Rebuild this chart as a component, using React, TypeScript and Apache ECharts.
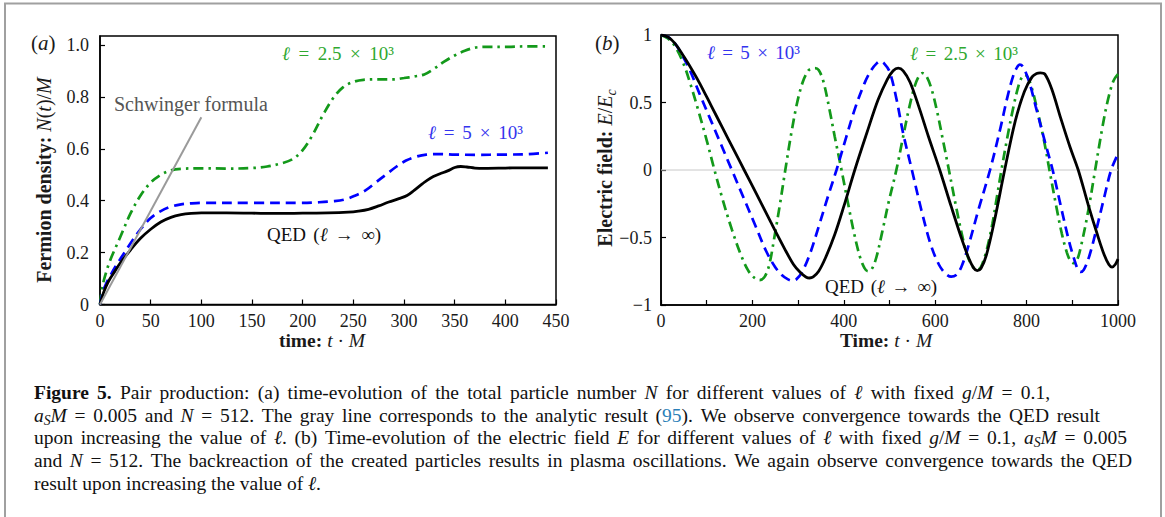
import React, { useEffect, useRef } from 'react';
import * as echarts from 'echarts';

const SERIF = '"Liberation Serif", "DejaVu Serif", serif';
const W = 1165;
const H = 517;

const GREEN = '#13991a';
const BLUE = '#0000ff';
const GREEN_T = '#2fa82f';
const BLUE_T = '#3434ee';
const LINK = '#2a7fb8';

// ---------- Panel (a): fermion density vs time ----------
const qedA: number[][] = [
  [0, 0], [3, 0.04], [6, 0.07], [10, 0.1], [15, 0.13], [20, 0.16], [30, 0.21], [40, 0.255],
  [50, 0.29], [60, 0.318], [70, 0.336], [80, 0.346], [90, 0.351], [100, 0.353], [125, 0.353],
  [150, 0.352], [175, 0.351], [200, 0.352], [225, 0.353], [245, 0.356], [255, 0.36], [265, 0.367],
  [275, 0.38], [285, 0.395], [295, 0.408], [303, 0.42], [310, 0.44], [318, 0.465], [326, 0.487],
  [335, 0.503], [343, 0.515], [350, 0.528], [356, 0.532], [362, 0.53], [370, 0.526], [380, 0.525],
  [400, 0.526], [420, 0.527], [442, 0.527],
];
const blueA: number[][] = [
  [0, 0], [3, 0.05], [6, 0.08], [10, 0.11], [15, 0.145], [20, 0.175], [30, 0.235], [40, 0.29],
  [50, 0.333], [60, 0.36], [70, 0.377], [80, 0.386], [90, 0.39], [100, 0.392], [150, 0.392],
  [200, 0.392], [215, 0.394], [230, 0.398], [242, 0.405], [252, 0.42], [262, 0.44], [272, 0.47],
  [282, 0.5], [292, 0.53], [302, 0.555], [312, 0.57], [322, 0.578], [335, 0.58], [350, 0.578],
  [370, 0.577], [400, 0.578], [420, 0.579], [442, 0.585],
];
const greenA: number[][] = [
  [0, 0], [2, 0.06], [5, 0.11], [10, 0.17], [20, 0.26], [30, 0.35], [40, 0.42], [50, 0.47],
  [60, 0.5], [70, 0.517], [80, 0.523], [100, 0.525], [125, 0.524], [150, 0.526], [165, 0.532],
  [178, 0.543], [190, 0.56], [200, 0.595], [210, 0.655], [220, 0.73], [230, 0.795], [240, 0.838],
  [250, 0.858], [260, 0.866], [275, 0.868], [290, 0.868], [300, 0.873], [310, 0.879], [320, 0.887],
  [330, 0.91], [340, 0.937], [350, 0.96], [360, 0.978], [370, 0.99], [380, 0.993], [400, 0.993],
  [420, 0.995], [442, 0.995],
];
const schwingerA: number[][] = [[0, 0], [100, 0.722]];

// ---------- Panel (b): electric field vs time ----------
const qedB: number[][] = [
  [0, 1.0], [15, 0.985], [30, 0.94], [50, 0.84], [70, 0.73], [85, 0.64], [110, 0.475], [135, 0.31],
  [160, 0.145], [182, 0.0], [210, -0.185], [240, -0.385], [270, -0.58], [290, -0.7], [305, -0.76],
  [317, -0.792], [325, -0.8], [333, -0.792], [345, -0.75], [360, -0.65], [380, -0.48], [400, -0.27],
  [424, 0.0], [450, 0.27], [475, 0.52], [495, 0.67], [508, 0.735], [519, 0.755], [530, 0.735],
  [545, 0.65], [565, 0.46], [585, 0.25], [610, 0.0], [635, -0.27], [657, -0.5], [673, -0.65],
  [684, -0.725], [692, -0.745], [700, -0.73], [712, -0.63], [730, -0.37], [752, 0.0], [775, 0.36],
  [795, 0.58], [812, 0.69], [822, 0.715], [830, 0.72], [840, 0.71], [855, 0.6], [875, 0.38],
  [895, 0.17], [913, 0.0], [935, -0.26], [955, -0.48], [970, -0.63], [980, -0.7], [987, -0.72],
  [994, -0.7], [1000, -0.66],
];
const blueB: number[][] = [
  [0, 1.0], [15, 0.985], [30, 0.94], [45, 0.86], [63, 0.74], [85, 0.56], [110, 0.36], [130, 0.2],
  [155, 0.0], [180, -0.2], [205, -0.4], [230, -0.6], [250, -0.72], [265, -0.78], [278, -0.81],
  [287, -0.82], [296, -0.81], [308, -0.76], [325, -0.63], [345, -0.42], [365, -0.2], [384, 0.0],
  [405, 0.24], [425, 0.46], [445, 0.64], [460, 0.74], [472, 0.79], [480, 0.805], [488, 0.79],
  [500, 0.73], [515, 0.53], [530, 0.27], [549, 0.0], [570, -0.3], [590, -0.55], [608, -0.7],
  [622, -0.765], [635, -0.79], [645, -0.78], [657, -0.72], [672, -0.57], [695, -0.29], [720, 0.0],
  [742, 0.3], [758, 0.54], [770, 0.69], [779, 0.76], [785, 0.78], [792, 0.765], [805, 0.66],
  [820, 0.47], [840, 0.21], [857, 0.0], [875, -0.27], [893, -0.53], [905, -0.67], [912, -0.735],
  [918, -0.755], [925, -0.74], [937, -0.64], [952, -0.45], [970, -0.2], [985, 0.0], [1000, 0.12],
];
const greenB: number[][] = [
  [0, 1.0], [15, 0.975], [30, 0.92], [49, 0.79], [65, 0.63], [80, 0.46], [100, 0.22], [117, 0.0],
  [135, -0.22], [155, -0.44], [175, -0.63], [190, -0.74], [203, -0.795], [216, -0.815], [227, -0.79],
  [237, -0.7], [248, -0.5], [260, -0.26], [272, 0.0], [285, 0.27], [298, 0.5], [310, 0.65],
  [322, 0.735], [330, 0.752], [337, 0.755], [345, 0.74], [355, 0.66], [368, 0.46], [380, 0.25],
  [395, 0.0], [410, -0.26], [422, -0.46], [435, -0.64], [445, -0.725], [453, -0.75], [461, -0.735],
  [471, -0.65], [484, -0.46], [498, -0.24], [515, 0.0], [530, 0.25], [543, 0.46], [555, 0.62],
  [565, 0.7], [572, 0.718], [580, 0.7], [592, 0.6], [605, 0.42], [617, 0.22], [630, 0.0],
  [645, -0.26], [658, -0.47], [670, -0.63], [682, -0.715], [692, -0.74], [700, -0.72], [712, -0.6],
  [725, -0.4], [735, -0.2], [745, 0.0], [760, 0.28], [772, 0.48], [782, 0.62], [790, 0.69],
  [795, 0.705], [802, 0.69], [812, 0.6], [825, 0.42], [838, 0.22], [850, 0.0], [865, -0.27],
  [877, -0.47], [888, -0.61], [896, -0.675], [902, -0.69], [910, -0.67], [920, -0.55], [935, -0.3],
  [950, 0.0], [965, 0.3], [978, 0.52], [990, 0.66], [1000, 0.71],
];
const zeroLineB: number[][] = [[0, 0], [1000, 0]];

// ---------- Caption ----------
const captionLines: string[] = [
  '**Figure** **5.** Pair production: (a) time-evolution of the total particle number *N* for different values of *ℓ* with fixed *g*/*M* = 0.1,',
  '*a*_S_*M* = 0.005 and *N* = 512. The gray line corresponds to the analytic result ([95]). We observe convergence towards the QED result',
  'upon increasing the value of *ℓ*. (b) Time-evolution of the electric field *E* for different values of *ℓ* with fixed *g*/*M* = 0.1, *a*_S_*M* = 0.005',
  'and *N* = 512. The backreaction of the created particles results in plasma oscillations. We again observe convergence towards the QED',
  'result upon increasing the value of *ℓ*.',
];
const captionRightEdges: (number | null)[] = [1050, 1100, 1127, 1132, null];

// ---------- text helpers ----------
type Seg = { text: string; italic: boolean; bold: boolean; sub: boolean; color?: string };

let measureCtx: CanvasRenderingContext2D | null = null;
function fontOf(s: { italic: boolean; bold: boolean }, size: number) {
  return `${s.italic ? 'italic ' : ''}${s.bold ? 'bold ' : ''}${size}px ${SERIF}`;
}
function measure(text: string, font: string): number {
  if (!measureCtx) measureCtx = document.createElement('canvas').getContext('2d');
  if (!measureCtx) return text.length * 8;
  measureCtx.font = font;
  return measureCtx.measureText(text).width;
}
function parseWord(word: string): Seg[] {
  const re = /\*\*([^*]+)\*\*|\*([^*]+)\*|\[([^\]]+)\]|_([^_]+)_|([^*\[_]+)/g;
  const out: Seg[] = [];
  let m: RegExpExecArray | null;
  while ((m = re.exec(word))) {
    if (m[1] !== undefined) out.push({ text: m[1], italic: false, bold: true, sub: false });
    else if (m[2] !== undefined) out.push({ text: m[2], italic: true, bold: false, sub: false });
    else if (m[3] !== undefined) out.push({ text: m[3], italic: false, bold: false, sub: false, color: LINK });
    else if (m[4] !== undefined) out.push({ text: m[4], italic: true, bold: false, sub: true });
    else if (m[5] !== undefined) out.push({ text: m[5], italic: false, bold: false, sub: false });
  }
  return out;
}
function segSize(s: Seg, size: number) {
  return s.sub ? size * 0.7 : size;
}
function textLine(
  markup: string,
  o: { x: number; y: number; size: number; color: string; align?: 'left' | 'center' | 'right'; width?: number | null; rotation?: number }
) {
  const words = markup.split(' ').filter(Boolean).map(parseWord);
  const space = measure(' ', fontOf({ italic: false, bold: false }, o.size));
  const widths = words.map((w) => w.reduce((a, s) => a + measure(s.text, fontOf(s, segSize(s, o.size))), 0));
  const sum = widths.reduce((a, b) => a + b, 0);
  let gap = space;
  if (o.width && words.length > 1) gap = Math.max(space * 0.55, (o.width - sum) / (words.length - 1));
  const total = sum + gap * (words.length - 1);
  const align = o.align || 'left';
  let cursor = align === 'left' ? 0 : align === 'center' ? -total / 2 : -total;
  const children: any[] = [];
  words.forEach((w, i) => {
    let x = cursor;
    w.forEach((s) => {
      const sz = segSize(s, o.size);
      children.push({
        type: 'text',
        x,
        y: s.sub ? o.size * 0.3 : 0,
        silent: true,
        style: {
          text: s.text,
          fontFamily: SERIF,
          fontSize: sz,
          fontStyle: s.italic ? 'italic' : 'normal',
          fontWeight: s.bold ? 'bold' : 'normal',
          fill: s.color || o.color,
          textAlign: 'left',
          textVerticalAlign: 'middle',
          align: 'left',
          verticalAlign: 'middle',
        },
      });
      x += measure(s.text, fontOf(s, sz));
    });
    cursor += widths[i] + gap;
  });
  return { type: 'group', x: o.x, y: o.y, rotation: o.rotation || 0, silent: true, children };
}

function buildOption() {
  const axisLine = { show: true, onZero: false, lineStyle: { color: '#000', width: 1.5 } };
  const axisTick = { show: true, inside: true, length: 5, lineStyle: { color: '#000', width: 1.2 } };
  const labelBase = { color: '#1a1a1a', fontFamily: SERIF, fontSize: 18 };
  const lineSeries = (data: number[][], xi: number, color: string, type: any, width: number, z: number) => ({
    type: 'line',
    data,
    xAxisIndex: xi,
    yAxisIndex: xi,
    showSymbol: false,
    symbol: 'none',
    smooth: 0.35,
    silent: true,
    z,
    lineStyle: { color, width, type, cap: 'butt' },
  });
  const dashDot = [10, 5, 2.5, 5];
  const dash = [10, 6];

  const graphics: any[] = [
    {
      type: 'polyline',
      silent: true,
      shape: { points: [[5, 517], [5, 3.5], [1161, 3.5], [1161, 517]] },
      style: { stroke: '#a0a0a0', lineWidth: 2, fill: null },
    },
    textLine('(*a*)', { x: 31, y: 43, size: 21, color: '#1a1a1a' }),
    textLine('(*b*)', { x: 595, y: 43, size: 21, color: '#1a1a1a' }),
    textLine('**Fermion** **density:** *N*(*t*)/*M*', { x: 44, y: 180, size: 20, color: '#1a1a1a', align: 'center', rotation: Math.PI / 2 }),
    textLine('**Electric** **field:** *E*/*E*_c_', { x: 605, y: 168, size: 20, color: '#1a1a1a', align: 'center', rotation: Math.PI / 2 }),
    textLine('**time:** *t* · *M*', { x: 322, y: 340, size: 19.5, color: '#1a1a1a', align: 'center' }),
    textLine('**Time:** *t* · *M*', { x: 886, y: 340, size: 19.5, color: '#1a1a1a', align: 'center' }),
    textLine('Schwinger formula', { x: 114, y: 104, size: 20, color: '#555555' }),
    textLine('*ℓ* = 2.5 × 10³', { x: 282, y: 53, size: 19, color: GREEN_T, width: 112 }),
    textLine('*ℓ* = 5 × 10³', { x: 428, y: 132, size: 19, color: BLUE_T, width: 95 }),
    textLine('QED (*ℓ* → ∞)', { x: 267, y: 234, size: 19, color: '#111', width: 114 }),
    textLine('*ℓ* = 5 × 10³', { x: 707, y: 52, size: 19, color: BLUE_T, width: 93 }),
    textLine('*ℓ* = 2.5 × 10³', { x: 910, y: 53, size: 19, color: GREEN_T, width: 108 }),
    textLine('QED (*ℓ* → ∞)', { x: 825, y: 286, size: 19, color: '#111', width: 112 }),
  ];
  const capX = 34;
  const capY = [392, 415, 437, 460, 483];
  captionLines.forEach((line, i) => {
    const edge = captionRightEdges[i];
    graphics.push(textLine(line, { x: capX, y: capY[i], size: 19.5, color: '#111', width: edge ? edge - capX : null }));
  });

  return {
    animation: false,
    backgroundColor: '#ffffff',
    grid: [
      { left: 100, top: 36, width: 456, height: 268.5, show: true, borderColor: '#000', borderWidth: 1.5, backgroundColor: 'transparent' },
      { left: 661, top: 35, width: 457, height: 270, show: true, borderColor: '#000', borderWidth: 1.5, backgroundColor: 'transparent' },
    ],
    xAxis: [
      {
        type: 'value', gridIndex: 0, min: 0, max: 450, interval: 50,
        axisLine, axisTick, splitLine: { show: false },
        axisLabel: { ...labelBase, margin: 7 },
      },
      {
        type: 'value', gridIndex: 1, min: 0, max: 1000, interval: 100,
        axisLine, axisTick, splitLine: { show: false },
        axisLabel: { ...labelBase, margin: 7, formatter: (v: number) => (v % 200 === 0 ? String(v) : '') },
      },
    ],
    yAxis: [
      {
        type: 'value', gridIndex: 0, min: 0, max: 1.035, interval: 0.2,
        axisLine, axisTick, splitLine: { show: false },
        axisLabel: { ...labelBase, margin: 11, formatter: (v: number) => (v === 0 ? '0' : v.toFixed(1)) },
      },
      {
        type: 'value', gridIndex: 1, min: -1, max: 1, interval: 0.5,
        axisLine, axisTick, splitLine: { show: false },
        axisLabel: { ...labelBase, margin: 9, formatter: (v: number) => (v < 0 ? '\u2212' + String(Math.abs(v)) : String(v)) },
      },
    ],
    series: [
      lineSeries(greenA, 0, GREEN, dashDot, 2.7, 2),
      lineSeries(blueA, 0, BLUE, dash, 2.7, 3),
      lineSeries(qedA, 0, '#000', 'solid', 2.8, 4),
      { ...lineSeries(schwingerA, 0, '#9a9a9a', 'solid', 2, 5), smooth: false },
      { ...lineSeries(zeroLineB, 1, '#c8c8c8', 'solid', 1, 1), smooth: false },
      lineSeries(greenB, 1, GREEN, dashDot, 2.7, 2),
      lineSeries(blueB, 1, BLUE, dash, 2.7, 3),
      lineSeries(qedB, 1, '#000', 'solid', 2.8, 4),
    ],
    graphic: { elements: graphics },
  };
}

export default function App() {
  const ref = useRef<HTMLDivElement>(null);
  useEffect(() => {
    if (!ref.current) return;
    const chart = echarts.init(ref.current, null, { renderer: 'svg', width: W, height: H });
    chart.setOption(buildOption() as any);
    return () => chart.dispose();
  }, []);
  return (
    <div
      ref={ref}
      style={{ position: 'absolute', left: 0, top: 0, width: W, height: H, background: '#fff' }}
    />
  );
}
